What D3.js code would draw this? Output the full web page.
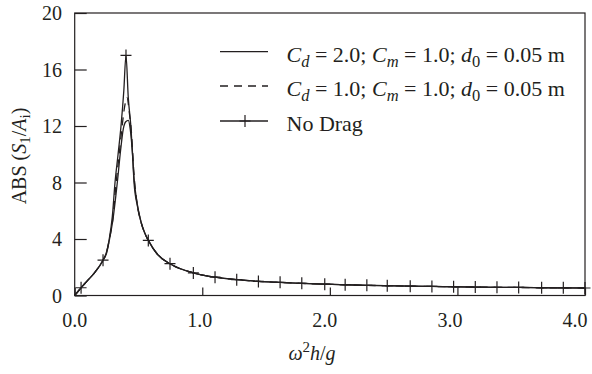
<!DOCTYPE html>
<html>
<head>
<meta charset="utf-8">
<script src="https://cdn.jsdelivr.net/npm/d3@7"></script>
<style>
  body { margin: 0; background: #fff; }
  svg text { font-family: "Liberation Serif", "Times New Roman", serif; fill: #231f20; }
</style>
</head>
<body>
<script>
// x ticks / y ticks
var xTicks = [0, 1, 2, 3, 4];
var xTickLabels = ["0.0", "1.0", "2.0", "3.0", "4.0"];
var yTicks = [0, 4, 8, 12, 16, 20];

// common rise from the origin (all three curves nearly coincide)
var startX = [0.00, 0.05, 0.10, 0.15, 0.222];
var startY = [0.00, 0.55, 1.05, 1.55, 2.50];

// peak region, one pair of arrays per series
var noDragPeakX = [0.25, 0.271, 0.295, 0.316, 0.34, 0.363, 0.385, 0.402, 0.42, 0.44, 0.455, 0.465, 0.49, 0.52, 0.55];
var noDragPeakY = [3.10, 4.00, 5.60, 8.00, 10.0, 12.0, 14.5, 17.0, 14.0, 12.0, 9.8, 8.0, 6.4, 5.2, 4.4];

var cd1PeakX = [0.25, 0.271, 0.30, 0.325, 0.35, 0.372, 0.392, 0.41, 0.43, 0.445, 0.46, 0.47, 0.49, 0.52, 0.55];
var cd1PeakY = [3.05, 3.95, 5.50, 8.00, 10.1, 12.0, 13.4, 14.0, 12.8, 11.5, 9.2, 8.0, 6.45, 5.2, 4.4];

var cd2PeakX = [0.25, 0.271, 0.30, 0.334, 0.36, 0.381, 0.40, 0.42, 0.435, 0.45, 0.465, 0.49, 0.52, 0.55];
var cd2PeakY = [3.00, 3.90, 5.40, 8.00, 10.3, 11.8, 12.3, 12.4, 11.8, 10.4, 8.3, 6.5, 5.2, 4.4];

// common decay after resonance
var tailX = [0.577, 0.65, 0.747, 0.93, 1.10, 1.27, 1.44, 1.61, 1.78, 1.96, 2.12, 2.29, 2.45, 2.63, 2.80, 2.97, 3.14, 3.31, 3.48, 3.66, 3.83, 4.00];
var tailY = [3.90, 2.90, 2.25, 1.60, 1.30, 1.12, 1.00, 0.93, 0.86, 0.80, 0.76, 0.72, 0.69, 0.66, 0.64, 0.62, 0.60, 0.58, 0.57, 0.55, 0.54, 0.53];

// "+" markers on the no drag curve
var markX = [0.05, 0.222, 0.402, 0.577, 0.747, 0.93, 1.10, 1.27, 1.44, 1.61, 1.78, 1.96, 2.12, 2.29, 2.45, 2.63, 2.80, 2.97, 3.14, 3.31, 3.48, 3.66, 3.83, 4.00];
var markY = [0.55, 2.50, 17.0, 3.90, 2.25, 1.60, 1.30, 1.12, 1.00, 0.93, 0.86, 0.80, 0.76, 0.72, 0.69, 0.66, 0.64, 0.62, 0.60, 0.58, 0.57, 0.55, 0.54, 0.53];

function pts(xs, ys) { return xs.map(function(d, i) { return [d, ys[i]]; }); }

var noDrag = pts(startX.concat(noDragPeakX, tailX), startY.concat(noDragPeakY, tailY));
var cd1 = pts(startX.concat(cd1PeakX, tailX), startY.concat(cd1PeakY, tailY));
var cd2 = pts(startX.concat(cd2PeakX, tailX), startY.concat(cd2PeakY, tailY));

var width = 592, height = 374;
var plotL = 74.7, plotR = 585, plotT = 13, plotB = 295.5;
var ink = "#231f20";

var svg = d3.select("body").append("svg")
    .attr("width", width)
    .attr("height", height);

var x = d3.scaleLinear().domain([0, 4]).range([plotL, plotR]);
var y = d3.scaleLinear().domain([0, 20]).range([plotB, plotT]);

// ticks point inward
svg.append("g")
    .attr("transform", "translate(0," + plotB + ")")
    .call(d3.axisBottom(x).tickValues(xTicks).tickSize(-8).tickFormat(""))
    .call(function(g) { g.select(".domain").remove(); })
    .selectAll("line").attr("stroke", ink).attr("stroke-width", 1.2);

svg.append("g")
    .attr("transform", "translate(" + plotL + ",0)")
    .call(d3.axisLeft(y).tickValues(yTicks).tickSize(-12).tickFormat(""))
    .call(function(g) { g.select(".domain").remove(); })
    .selectAll("line").attr("stroke", ink).attr("stroke-width", 1.2);

// tick labels (the original's labels sit a little left of their ticks)
svg.append("g").selectAll("text")
    .data(xTicks)
    .enter().append("text")
    .attr("x", function(d) { return x(d) - 2.5 * d; })
    .attr("y", plotB + 31)
    .attr("text-anchor", "middle")
    .attr("font-size", 20)
    .text(function(d, i) { return xTickLabels[i]; });

svg.append("g").selectAll("text")
    .data(yTicks)
    .enter().append("text")
    .attr("x", 62)
    .attr("y", function(d) { return y(d) + 7; })
    .attr("text-anchor", "end")
    .attr("font-size", 20)
    .text(function(d) { return d; });

// frame
svg.append("rect")
    .attr("x", plotL).attr("y", plotT)
    .attr("width", plotR - plotL).attr("height", plotB - plotT)
    .attr("fill", "none").attr("stroke", ink).attr("stroke-width", 1.2);

var line = d3.line()
    .x(function(d) { return x(d[0]); })
    .y(function(d) { return y(d[1]); })
    .curve(d3.curveMonotoneX);

svg.append("path").datum(cd2)
    .attr("d", line).attr("fill", "none").attr("stroke", ink).attr("stroke-width", 1.3);
svg.append("path").datum(cd1)
    .attr("d", line).attr("fill", "none").attr("stroke", ink).attr("stroke-width", 1.3)
    .attr("stroke-dasharray", "8,6");
svg.append("path").datum(noDrag)
    .attr("d", line).attr("fill", "none").attr("stroke", ink).attr("stroke-width", 1.3);

function plus(g, cx, cy) {
    g.append("path")
        .attr("d", "M" + (cx - 5.5) + "," + cy + "H" + (cx + 5.5) + "M" + cx + "," + (cy - 6) + "V" + (cy + 6))
        .attr("stroke", ink).attr("stroke-width", 1.2).attr("fill", "none");
}

var marks = svg.append("g");
markX.forEach(function(d, i) { plus(marks, x(d), y(markY[i])); });

// rich text: segments of {t, i (italic), sub, sup}
function rich(sel, segs, size) {
    var shift = 0;
    segs.forEach(function(s) {
        var want = s.sub ? size * 0.22 : (s.sup ? -size * 0.38 : 0);
        sel.append("tspan")
            .attr("dy", want - shift)
            .attr("font-style", s.i ? "italic" : "normal")
            .attr("font-size", (s.sub || s.sup) ? size * 0.75 : size)
            .text(s.t);
        shift = want;
    });
}

// legend
var legendRows = [
    { y: 51.7, dash: null, mark: false,
      segs: [{t: "C", i: 1}, {t: "d", i: 1, sub: 1}, {t: " = 2.0; "}, {t: "C", i: 1}, {t: "m", i: 1, sub: 1},
             {t: " = 1.0; "}, {t: "d", i: 1}, {t: "0", sub: 1}, {t: " = 0.05 m"}] },
    { y: 86, dash: "8,6", mark: false,
      segs: [{t: "C", i: 1}, {t: "d", i: 1, sub: 1}, {t: " = 1.0; "}, {t: "C", i: 1}, {t: "m", i: 1, sub: 1},
             {t: " = 1.0; "}, {t: "d", i: 1}, {t: "0", sub: 1}, {t: " = 0.05 m"}] },
    { y: 121, dash: null, mark: true, segs: [{t: "No Drag"}] }
];

var legend = svg.append("g");
legendRows.forEach(function(r) {
    legend.append("line")
        .attr("x1", 220).attr("x2", 268).attr("y1", r.y).attr("y2", r.y)
        .attr("stroke", ink).attr("stroke-width", 1.3)
        .attr("stroke-dasharray", r.dash);
    if (r.mark) plus(legend, 245, r.y);
    var t = legend.append("text").attr("x", 286.5).attr("y", r.y + 10).attr("font-size", 22);
    rich(t, r.segs, 22);
});

// axis titles
var xt = svg.append("text").attr("x", 312).attr("y", 360).attr("text-anchor", "middle").attr("font-size", 20);
rich(xt, [{t: "\u03c9", i: 1}, {t: "2", sup: 1}, {t: "h", i: 1}, {t: "/"}, {t: "g", i: 1}], 20);

var yt = svg.append("text")
    .attr("transform", "translate(26,156) rotate(-90)")
    .attr("text-anchor", "middle").attr("font-size", 20);
rich(yt, [{t: "ABS ("}, {t: "S", i: 1}, {t: "1", sub: 1}, {t: "/"}, {t: "A", i: 1}, {t: "i", sub: 1}, {t: ")"}], 20);
</script>
</body>
</html>
